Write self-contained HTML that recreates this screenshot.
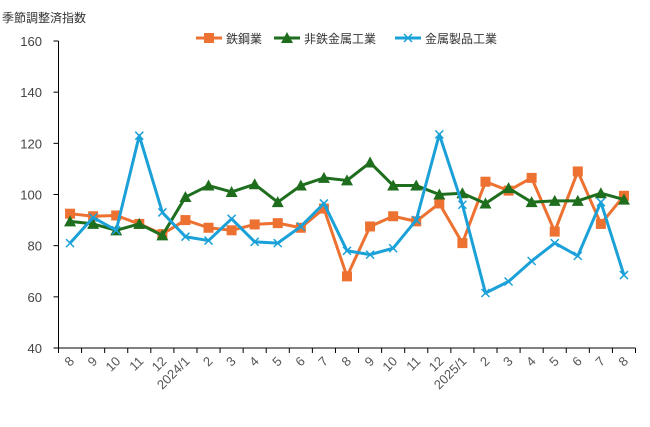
<!DOCTYPE html>
<html><head><meta charset="utf-8"><style>
body{margin:0;background:#fff;font-family:"Liberation Sans","Noto Sans CJK JP",sans-serif}
</style></head><body>
<svg id="c" width="650" height="422" xmlns="http://www.w3.org/2000/svg" font-family="Liberation Sans, Noto Sans CJK JP, sans-serif"></svg>
<script>
const categories=["8","9","10","11","12","2024/1","2","3","4","5","6","7","8","9","10","11","12","2025/1","2","3","4","5","6","7","8"];
const steel=[92.5,91.5,91.8,88.5,84.5,90,87,86,88.3,88.8,87,94.5,68,87.5,91.5,89.5,96.5,81,105,101.5,106.5,85.5,109,88.5,99.5];
const nonferrous=[89.5,88.5,86,88.5,84,99,103.5,101,104,97,103.5,106.5,105.5,112.5,103.5,103.5,100,100.5,96.5,102.5,97,97.5,97.5,100.5,98];
const metalProducts=[81,91,86,123,93,83.5,82,90.5,81.5,81,87.5,96.5,78,76.5,79,90,123.5,96,61.5,66,74,81,76,97,68.5];
const yTicks=[40,60,80,100,120,140,160];
const NS="http://www.w3.org/2000/svg";
const svg=document.getElementById('c');
const x0=58.5,x1=635.5,yT=41,yB=348;
const step=(x1-x0)/categories.length;
const X=i=>x0+step*(i+0.5);
const Y=v=>yB-(v-40)/120*(yB-yT);
function mk(t,a,p){const e=document.createElementNS(NS,t);for(const k in a)e.setAttribute(k,a[k]);(p||svg).appendChild(e);return e;}
const t=mk('text',{x:2,y:22,'font-size':12,fill:'#333'});t.textContent='季節調整済指数';


yTicks.forEach(v=>{
  const l=mk('text',{x:42,y:Y(v)+5,'font-size':13,fill:'#444','text-anchor':'end'});l.textContent=v;
  
  
  const tk=mk('line',{x1:x0-5,x2:x0,y1:Y(v),y2:Y(v),stroke:'#000'});
  
  
});
const ya=mk('line',{x1:x0,x2:x0,y1:yT,y2:yB,stroke:'#000'});


const xa=mk('line',{x1:x0,x2:x1,y1:yB,y2:yB,stroke:'#000'});


for(let i=0;i<=categories.length;i++){
  const tk=mk('line',{x1:x0+step*i,x2:x0+step*i,y1:yB,y2:yB+5,stroke:'#000'});
  
  
}
categories.forEach((c,i)=>{
  const l=mk('text',{x:0,y:0,'font-size':13,fill:'#555','text-anchor':'end',transform:`translate(${X(i)+5},${yB+14}) rotate(-45)`});
  l.textContent=c;
  
  
});
function marker(type,x,y,color,g){
  if(type==='sq')return mk('rect',{x:x-5,y:y-5,width:10,height:10,fill:color},g);
  if(type==='tri')return mk('polygon',{points:`${x},${y-6} ${x-6},${y+5} ${x+6},${y+5}`,fill:color},g);
  const p=mk('path',{d:`M${x-4},${y-4}L${x+4},${y+4}M${x-4},${y+4}L${x+4},${y-4}`,stroke:color,'stroke-width':1.5},g);return p;
}
const series=[
  {name:'鉄鋼業',data:steel,color:'#ED7130',m:'sq',id:'steel'},
  {name:'非鉄金属工業',data:nonferrous,color:'#1E6E1E',m:'tri',id:'nonferrous'},
  {name:'金属製品工業',data:metalProducts,color:'#1BA1D8',m:'x',id:'metal-products'}];
series.forEach(s=>{
  const g=mk('g',{});
  
  
  const pl=mk('polyline',{points:s.data.map((v,i)=>X(i)+','+Y(v)).join(' '),fill:'none',stroke:s.color,'stroke-width':3,'stroke-linejoin':'round'},g);
  
  
  s.data.forEach((v,i)=>{const m=marker(s.m,X(i),Y(v),s.color,g);
    
    });
});
const lx=[196,274,395];
series.forEach((s,k)=>{
  const g=mk('g',{});
  
  
  mk('line',{x1:lx[k],x2:lx[k]+26,y1:38,y2:38,stroke:s.color,'stroke-width':3},g);
  marker(s.m,lx[k]+13,38,s.color,g);
  const tx=mk('text',{x:lx[k]+30,y:43,'font-size':12,fill:'#333'},g);tx.textContent=s.name;
});
</script>
</body></html>
